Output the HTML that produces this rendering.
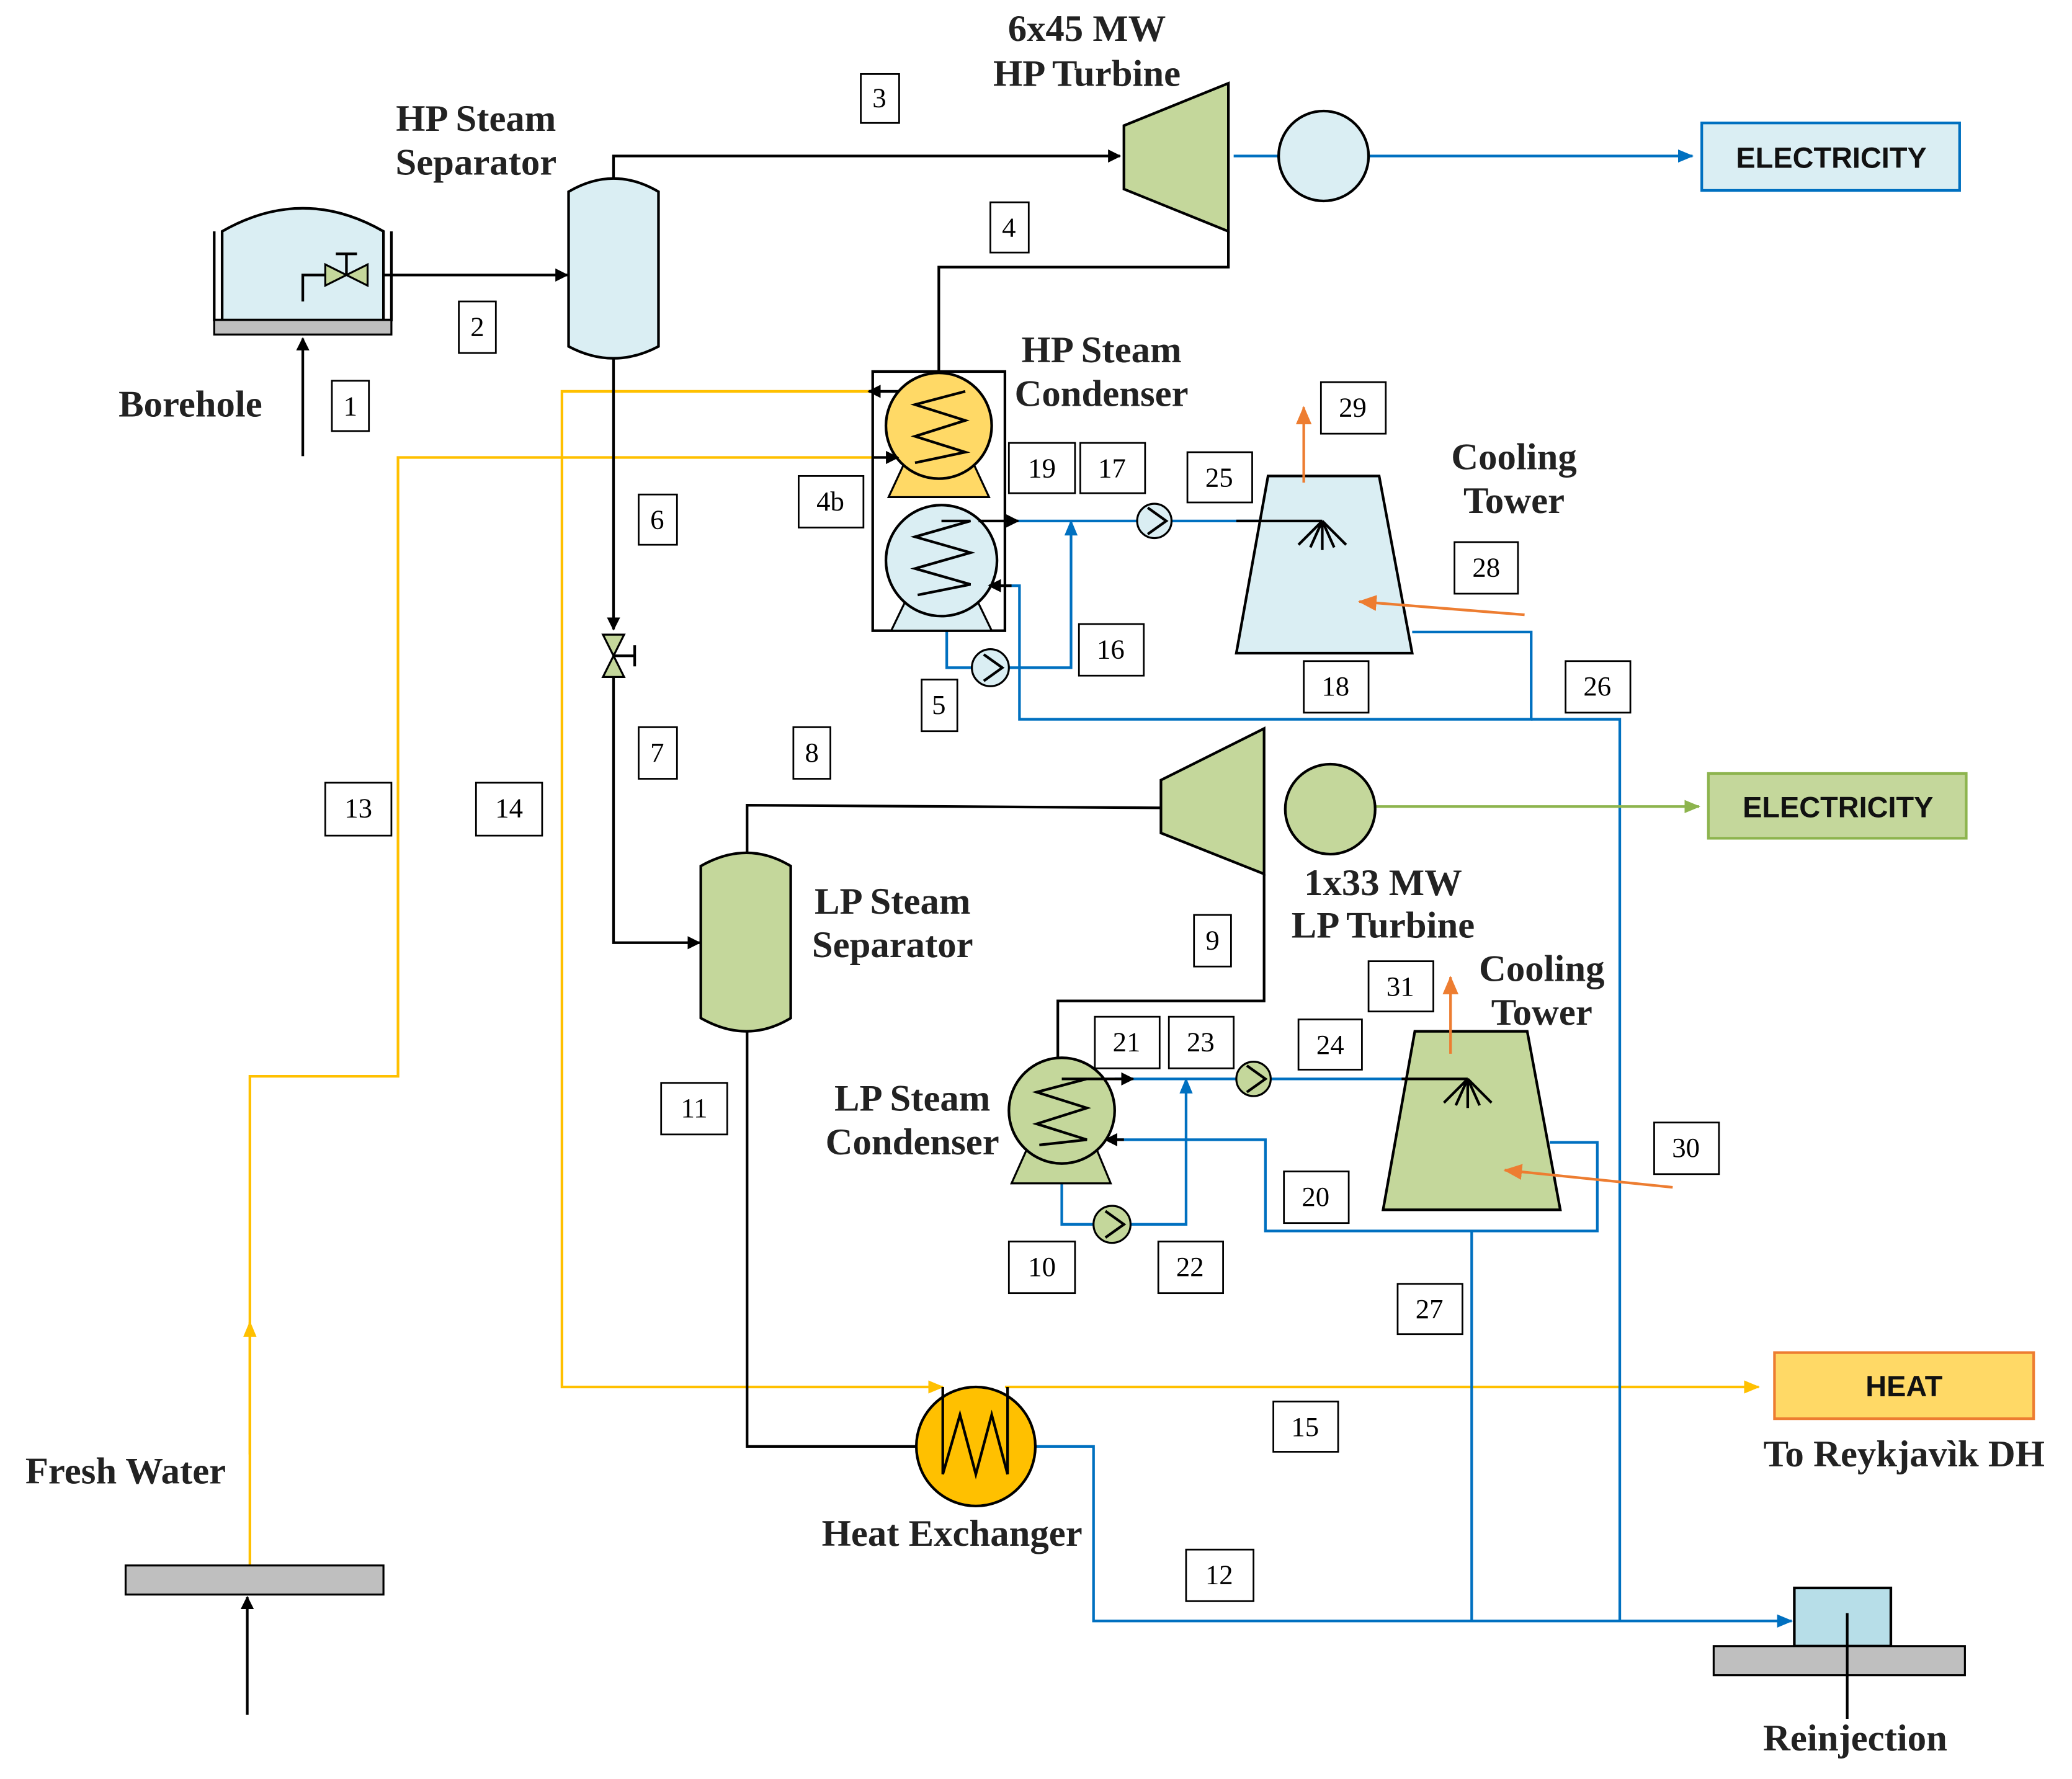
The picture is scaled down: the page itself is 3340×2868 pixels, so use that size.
<!DOCTYPE html>
<html><head><meta charset="utf-8"><style>html,body{margin:0;padding:0;background:#fff}svg{display:block}</style></head><body>
<svg xmlns="http://www.w3.org/2000/svg" width="3340" height="2868" viewBox="0 0 1567 1345.5" preserveAspectRatio="none">
<defs>
<marker id="ak" markerWidth="10" markerHeight="10" refX="9" refY="5" orient="auto" markerUnits="userSpaceOnUse"><path d="M0,0 L10,5 L0,10z" fill="#000"/></marker>
<marker id="ab" markerWidth="12" markerHeight="10" refX="11" refY="5" orient="auto" markerUnits="userSpaceOnUse"><path d="M0,0 L12,5 L0,10z" fill="#0070C0"/></marker>
<marker id="ag" markerWidth="12" markerHeight="10" refX="11" refY="5" orient="auto" markerUnits="userSpaceOnUse"><path d="M0,0 L12,5 L0,10z" fill="#8DB44E"/></marker>
<marker id="ay" markerWidth="12" markerHeight="10" refX="11" refY="5" orient="auto" markerUnits="userSpaceOnUse"><path d="M0,0 L12,5 L0,10z" fill="#FFC000"/></marker>
<marker id="ao" markerWidth="14" markerHeight="12" refX="13" refY="6" orient="auto" markerUnits="userSpaceOnUse"><path d="M0,0 L14,6 L0,12z" fill="#ED7D31"/></marker>
</defs>
<style>
.l{font-family:"Liberation Serif",serif;font-size:28.5px;font-weight:bold;fill:#222;text-anchor:middle}
.n{font-family:"Liberation Serif",serif;font-size:21px;fill:#000;text-anchor:middle}
.e{font-family:"Liberation Sans",sans-serif;font-size:22px;font-weight:bold;fill:#111;text-anchor:middle}
.k{stroke:#000;stroke-width:2;fill:none}
.b{stroke:#0070C0;stroke-width:2;fill:none}
.y{stroke:#FFC000;stroke-width:2;fill:none}
.bx{fill:#fff;stroke:#000;stroke-width:1.3}
</style>

<polyline class="y" points="189,1184 189,814 301,814 301,346 668,346"/>
<line class="y" x1="189" y1="1100" x2="189" y2="1000" marker-end="url(#ay)"/>
<polyline class="y" points="668,296 425,296 425,1049 713,1049" marker-end="url(#ay)"/>
<line class="y" x1="760" y1="1049" x2="1330" y2="1049" marker-end="url(#ay)"/>

<polyline class="b" points="760,394 860,394"/>
<polyline class="b" points="886,394 1000,394"/>
<polyline class="b" points="716,477 716,505 735,505"/>
<polyline class="b" points="763,505 810,505 810,394" marker-end="url(#ab)"/>
<polyline class="b" points="1068,478 1158,478 1158,544 771,544 771,443 760,443"/>
<polyline class="b" points="1158,544 1225,544 1225,1226"/>
<polyline class="b" points="843,816 935,816"/>
<polyline class="b" points="961,816 1110,816"/>
<polyline class="b" points="803,895 803,926 827,926"/>
<polyline class="b" points="855,926 897,926 897,816" marker-end="url(#ab)"/>
<polyline class="b" points="1172,864 1208,864 1208,931 957,931 957,862 845,862"/>
<polyline class="b" points="1113,931 1113,1226"/>
<polyline class="b" points="783,1094 827,1094 827,1226 1355,1226" marker-end="url(#ab)"/>
<line class="b" x1="933" y1="118" x2="967" y2="118"/>
<line class="b" x1="1035" y1="118" x2="1280" y2="118" marker-end="url(#ab)"/>
<line x1="1040" y1="610" x2="1285" y2="610" stroke="#8DB44E" stroke-width="2" marker-end="url(#ag)"/>

<line class="k" x1="229" y1="345" x2="229" y2="256" marker-end="url(#ak)"/>
<line class="k" x1="280" y1="208" x2="429" y2="208" marker-end="url(#ak)"/>
<polyline class="k" points="464,135 464,118 847,118" marker-end="url(#ak)"/>
<polyline class="k" points="929,175 929,202 710,202 710,282"/>
<polyline class="k" points="464,270 464,476" marker-end="url(#ak)"/>
<polyline class="k" points="464,512 464,713 529,713" marker-end="url(#ak)"/>
<polyline class="k" points="565,645 565,609 878,611"/>
<polyline class="k" points="956,661 956,757 800,757 800,800"/>
<polyline class="k" points="565,780 565,1094 693,1094"/>
<line class="k" x1="187" y1="1297" x2="187" y2="1208" marker-end="url(#ak)"/>

<path d="M168,242 L168,175 Q229,140 290,175 L290,242" fill="#DAEEF3" stroke="#000" stroke-width="2"/>
<polyline class="k" points="162,175 162,242 296,242 296,175"/>
<rect x="162" y="242" width="134" height="11" fill="#BFBFBF" stroke="#000" stroke-width="1.5"/>
<polyline class="k" points="229,228 229,208 246,208"/>
<path d="M246,200 L278,216 L278,200 L246,216z" fill="#C4D79B" stroke="#000" stroke-width="1.5"/>
<line class="k" x1="262" y1="208" x2="262" y2="192"/><line class="k" x1="254" y1="192" x2="270" y2="192"/>

<path d="M430,145 Q464,125 498,145 L498,262 Q464,280 430,262z" fill="#DAEEF3" stroke="#000" stroke-width="2"/>
<path d="M456,480 L472,480 L456,512 L472,512z" fill="#C4D79B" stroke="#000" stroke-width="1.5"/>
<line class="k" x1="464" y1="496" x2="480" y2="496"/><line class="k" x1="480" y1="488" x2="480" y2="504"/>
<path d="M530,655 Q565,635 598,655 L598,770 Q565,790 530,770z" fill="#C4D79B" stroke="#000" stroke-width="2"/>

<polygon points="850,95 929,63 929,175 850,143" fill="#C4D79B" stroke="#000" stroke-width="2"/>
<circle cx="1001" cy="118" r="34" fill="#DAEEF3" stroke="#000" stroke-width="2"/>
<rect x="1287" y="93" width="195" height="51" fill="#DAEEF3" stroke="#0070C0" stroke-width="2"/>
<text class="e" x="1385" y="127">ELECTRICITY</text>
<polygon points="878,590 956,551 956,661 878,630" fill="#C4D79B" stroke="#000" stroke-width="2"/>
<circle cx="1006" cy="612" r="34" fill="#C4D79B" stroke="#000" stroke-width="2"/>
<rect x="1292" y="585" width="195" height="49" fill="#C4D79B" stroke="#8DB44E" stroke-width="2"/>
<text class="e" x="1390" y="618">ELECTRICITY</text>

<rect x="660" y="281" width="100" height="196" fill="#fff" stroke="#000" stroke-width="2"/>
<polygon points="685,348 735,348 748,376 672,376" fill="#FFD966" stroke="#000" stroke-width="1.5"/>
<circle cx="710" cy="322" r="40" fill="#FFD966" stroke="#000" stroke-width="2"/>
<polyline class="k" points="730,296 692,306 730,318 692,330 730,342 692,350"/>
<polygon points="687,450 737,450 750,477 674,477" fill="#DAEEF3" stroke="#000" stroke-width="1.5"/>
<circle cx="712" cy="424" r="42" fill="#DAEEF3" stroke="#000" stroke-width="2"/>
<polyline class="k" points="712,394 734,394 692,406 734,418 692,430 734,442 694,450"/>
<circle cx="749" cy="505" r="14" fill="#DAEEF3" stroke="#000" stroke-width="1.5"/>
<path d="M744,495 L758,505 L744,515" class="k" stroke-width="1.2"/>
<circle cx="873" cy="394" r="13" fill="#DAEEF3" stroke="#000" stroke-width="1.5"/>
<path d="M868,384 L882,394 L868,404" class="k" stroke-width="1.2"/>
<line class="k" x1="660" y1="346" x2="679" y2="346" marker-end="url(#ak)"/>
<line class="k" x1="680" y1="296" x2="657" y2="296" marker-end="url(#ak)"/>
<line class="k" x1="740" y1="394" x2="770" y2="394" marker-end="url(#ak)"/>
<line class="k" x1="765" y1="443" x2="748" y2="443" marker-end="url(#ak)"/>

<polygon points="959,360 1043,360 1068,494 935,494" fill="#DAEEF3" stroke="#000" stroke-width="2"/>
<line class="k" x1="935" y1="394" x2="1000" y2="394" stroke-width="1.5"/>
<g class="k" stroke-width="1.5"><line x1="1000" y1="394" x2="1000" y2="416"/><line x1="1000" y1="394" x2="982" y2="412"/><line x1="1000" y1="394" x2="1018" y2="412"/><line x1="1000" y1="394" x2="991" y2="414"/><line x1="1000" y1="394" x2="1009" y2="414"/></g>
<line x1="986" y1="365" x2="986" y2="308" stroke="#ED7D31" stroke-width="2" marker-end="url(#ao)"/>
<line x1="1153" y1="465" x2="1028" y2="455" stroke="#ED7D31" stroke-width="2" marker-end="url(#ao)"/>

<polygon points="778,866 828,866 840,895 765,895" fill="#C4D79B" stroke="#000" stroke-width="1.5"/>
<circle cx="803" cy="840" r="40" fill="#C4D79B" stroke="#000" stroke-width="2"/>
<polyline class="k" points="803,816 822,816 784,826 822,838 784,850 822,862 786,866"/>
<line class="k" x1="822" y1="816" x2="857" y2="816" marker-end="url(#ak)"/>
<line class="k" x1="850" y1="862" x2="836" y2="862" marker-end="url(#ak)"/>
<circle cx="841" cy="926" r="14" fill="#C4D79B" stroke="#000" stroke-width="1.5"/>
<path d="M836,916 L850,926 L836,936" class="k" stroke-width="1.2"/>
<circle cx="948" cy="816" r="13" fill="#C4D79B" stroke="#000" stroke-width="1.5"/>
<path d="M943,806 L957,816 L943,826" class="k" stroke-width="1.2"/>
<polygon points="1070,780 1155,780 1180,915 1046,915" fill="#C4D79B" stroke="#000" stroke-width="2"/>
<line class="k" x1="1060" y1="816" x2="1110" y2="816" stroke-width="1.5"/>
<g class="k" stroke-width="1.5"><line x1="1110" y1="816" x2="1110" y2="838"/><line x1="1110" y1="816" x2="1092" y2="834"/><line x1="1110" y1="816" x2="1128" y2="834"/><line x1="1110" y1="816" x2="1101" y2="836"/><line x1="1110" y1="816" x2="1119" y2="836"/></g>
<line x1="1097" y1="797" x2="1097" y2="739" stroke="#ED7D31" stroke-width="2" marker-end="url(#ao)"/>
<line x1="1265" y1="898" x2="1138" y2="885" stroke="#ED7D31" stroke-width="2" marker-end="url(#ao)"/>

<circle cx="738" cy="1094" r="45" fill="#FFC000" stroke="#000" stroke-width="2"/>
<polyline class="k" points="713,1049 713,1115 726,1070 738,1115 750,1070 762,1115 762,1049"/>
<rect x="1342" y="1023" width="196" height="50" fill="#FFD966" stroke="#ED7D31" stroke-width="2"/>
<text class="e" x="1440" y="1056">HEAT</text>

<rect x="1357" y="1201" width="73" height="44" fill="#B7DEE8" stroke="#000" stroke-width="2"/>
<rect x="1296" y="1245" width="190" height="22" fill="#BFBFBF" stroke="#000" stroke-width="1.5"/>
<line class="k" x1="1397" y1="1220" x2="1397" y2="1300"/>
<rect x="95" y="1184" width="195" height="22" fill="#BFBFBF" stroke="#000" stroke-width="1.5"/>

<text class="l" x="144" y="315">Borehole</text>
<text class="l" x="360" y="99">HP Steam</text><text class="l" x="360" y="132">Separator</text>
<text class="l" x="822" y="31">6x45 MW</text><text class="l" x="822" y="65">HP Turbine</text>
<text class="l" x="833" y="274">HP Steam</text><text class="l" x="833" y="307">Condenser</text>
<text class="l" x="1145" y="355">Cooling</text><text class="l" x="1145" y="388">Tower</text>
<text class="l" x="675" y="691">LP Steam</text><text class="l" x="675" y="724">Separator</text>
<text class="l" x="1046" y="677">1x33 MW</text><text class="l" x="1046" y="709">LP Turbine</text>
<text class="l" x="1166" y="742">Cooling</text><text class="l" x="1166" y="775">Tower</text>
<text class="l" x="690" y="840">LP Steam</text><text class="l" x="690" y="873">Condenser</text>
<text class="l" x="720" y="1169">Heat Exchanger</text>
<text class="l" x="95" y="1122">Fresh Water</text>
<text class="l" x="1440" y="1109">To Reykjavìk DH</text>
<text class="l" x="1403" y="1324">Reinjection</text>

<g>
<rect class="bx" x="251" y="288" width="28" height="38"/><text class="n" x="265" y="314">1</text>
<rect class="bx" x="347" y="228" width="28" height="39"/><text class="n" x="361" y="254">2</text>
<rect class="bx" x="651" y="56" width="29" height="37"/><text class="n" x="665" y="81">3</text>
<rect class="bx" x="749" y="153" width="29" height="38"/><text class="n" x="763" y="179">4</text>
<rect class="bx" x="604" y="360" width="49" height="39"/><text class="n" x="628" y="386">4b</text>
<rect class="bx" x="697" y="514" width="27" height="39"/><text class="n" x="710" y="540">5</text>
<rect class="bx" x="483" y="374" width="29" height="38"/><text class="n" x="497" y="400">6</text>
<rect class="bx" x="483" y="550" width="29" height="39"/><text class="n" x="497" y="576">7</text>
<rect class="bx" x="600" y="550" width="28" height="39"/><text class="n" x="614" y="576">8</text>
<rect class="bx" x="903" y="692" width="28" height="39"/><text class="n" x="917" y="718">9</text>
<rect class="bx" x="763" y="939" width="50" height="39"/><text class="n" x="788" y="965">10</text>
<rect class="bx" x="500" y="819" width="50" height="39"/><text class="n" x="525" y="845">11</text>
<rect class="bx" x="897" y="1172" width="51" height="39"/><text class="n" x="922" y="1198">12</text>
<rect class="bx" x="246" y="592" width="50" height="40"/><text class="n" x="271" y="618">13</text>
<rect class="bx" x="360" y="592" width="50" height="40"/><text class="n" x="385" y="618">14</text>
<rect class="bx" x="963" y="1060" width="49" height="38"/><text class="n" x="987" y="1086">15</text>
<rect class="bx" x="816" y="472" width="49" height="39"/><text class="n" x="840" y="498">16</text>
<rect class="bx" x="817" y="335" width="49" height="38"/><text class="n" x="841" y="361">17</text>
<rect class="bx" x="986" y="500" width="49" height="39"/><text class="n" x="1010" y="526">18</text>
<rect class="bx" x="763" y="335" width="50" height="38"/><text class="n" x="788" y="361">19</text>
<rect class="bx" x="971" y="886" width="49" height="39"/><text class="n" x="995" y="912">20</text>
<rect class="bx" x="828" y="769" width="49" height="39"/><text class="n" x="852" y="795">21</text>
<rect class="bx" x="876" y="939" width="49" height="39"/><text class="n" x="900" y="965">22</text>
<rect class="bx" x="884" y="769" width="49" height="39"/><text class="n" x="908" y="795">23</text>
<rect class="bx" x="982" y="771" width="48" height="38"/><text class="n" x="1006" y="797">24</text>
<rect class="bx" x="898" y="342" width="49" height="38"/><text class="n" x="922" y="368">25</text>
<rect class="bx" x="1184" y="500" width="49" height="39"/><text class="n" x="1208" y="526">26</text>
<rect class="bx" x="1057" y="971" width="49" height="38"/><text class="n" x="1081" y="997">27</text>
<rect class="bx" x="1100" y="410" width="48" height="39"/><text class="n" x="1124" y="436">28</text>
<rect class="bx" x="999" y="289" width="49" height="39"/><text class="n" x="1023" y="315">29</text>
<rect class="bx" x="1251" y="849" width="49" height="39"/><text class="n" x="1275" y="875">30</text>
<rect class="bx" x="1035" y="727" width="49" height="38"/><text class="n" x="1059" y="753">31</text>
</g>
</svg>
</body></html>
